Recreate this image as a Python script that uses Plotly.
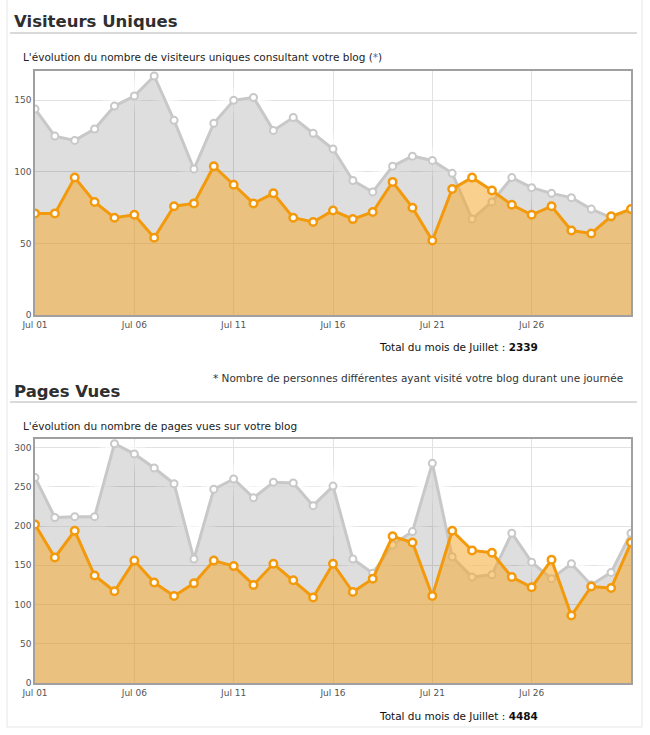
import plotly.graph_objects as go

W, H = 650, 735

# ---------------- data ----------------
days = [f"2010-07-{d:02d}" for d in range(1, 32)]
x_tick_days = ["2010-07-01", "2010-07-06", "2010-07-11", "2010-07-16", "2010-07-21", "2010-07-26"]

visiteurs_juillet = [71, 71, 96, 79, 68, 70, 54, 76, 78, 104, 91, 78, 85, 68, 65,
                     73, 67, 72, 93, 75, 52, 88, 96, 87, 77, 70, 76, 59, 57, 69, 74]
visiteurs_juin = [144, 125, 122, 130, 146, 153, 167, 136, 102, 134, 150, 152, 129, 138, 127,
                  116, 94, 86, 104, 111, 108, 99, 67, 79, 96, 89, 85, 82, 74, 68, 74]

pages_juillet = [202, 160, 194, 137, 117, 156, 128, 111, 127, 156, 149, 125, 152, 131, 109,
                 152, 116, 133, 187, 179, 111, 194, 169, 166, 135, 122, 157, 86, 123, 121, 179]
pages_juin = [262, 211, 212, 212, 305, 292, 274, 254, 158, 247, 260, 236, 256, 255, 226,
              251, 158, 140, 176, 193, 280, 161, 135, 138, 191, 154, 133, 152, 125, 141, 191]

total_visiteurs = 2339
total_pages = 4484

y_ticks_1 = [0, 50, 100, 150]
y_ticks_2 = [0, 50, 100, 150, 200, 250, 300]

# ---------------- styling ----------------
FONT = "DejaVu Sans"
ORANGE = "#f39a0c"
ORANGE_FILL = "rgba(244,170,50,0.55)"
GREY = "#c8c8c8"
GREY_FILL = "rgba(0,0,0,0.13)"
GRID = "#e2e2e2"


def px(x):
    return x / W


def py(y):
    return 1 - y / H


fig = go.Figure()


def add_pair(prev, cur, xa, ya):
    # soft white halo around the previous-month line (hides grid near the curve)
    for w, op in [(26, 0.35), (16, 0.5), (8, 0.6)]:
        fig.add_trace(go.Scatter(
            x=days, y=prev, xaxis=xa, yaxis=ya, mode="lines",
            line=dict(color="white", width=w), opacity=op,
            showlegend=False, hoverinfo="skip"))
    fig.add_trace(go.Scatter(
        x=days, y=prev, xaxis=xa, yaxis=ya, mode="lines+markers",
        fill="tozeroy", fillcolor=GREY_FILL,
        line=dict(color=GREY, width=3),
        marker=dict(size=7, color="white", line=dict(color=GREY, width=2)),
        showlegend=False, hoverinfo="skip"))
    fig.add_trace(go.Scatter(
        x=days, y=cur, xaxis=xa, yaxis=ya, mode="lines+markers",
        fill="tozeroy", fillcolor=ORANGE_FILL,
        line=dict(color=ORANGE, width=3),
        marker=dict(size=7.5, color="white", line=dict(color=ORANGE, width=2.5)),
        showlegend=False, hoverinfo="skip"))


add_pair(visiteurs_juin, visiteurs_juillet, "x", "y")
add_pair(pages_juin, pages_juillet, "x2", "y2")

xaxis_common = dict(
    type="date", range=[days[0], days[-1]],
    tickmode="array", tickvals=x_tick_days, tickformat="%b %d",
    showgrid=True, gridcolor=GRID, gridwidth=1,
    showline=True, linecolor="#a0a0a0", linewidth=1.5, mirror=True,
    ticks="", zeroline=False, automargin=False,
    tickfont=dict(family=FONT, size=9, color="#545454"), fixedrange=True,
)
yaxis_common = dict(
    showgrid=True, gridcolor=GRID, gridwidth=1,
    showline=True, linecolor="#a0a0a0", linewidth=1.5, mirror=True,
    ticks="", zeroline=False, automargin=False,
    tickfont=dict(family=FONT, size=9, color="#545454"), fixedrange=True,
)

fig.update_layout(
    width=W, height=H, autosize=False,
    margin=dict(l=0, r=0, t=0, b=0, pad=0),
    paper_bgcolor="white", plot_bgcolor="white",
    font=dict(family=FONT, color="#222"),
    xaxis=dict(domain=[px(35), px(631)], anchor="y", **xaxis_common),
    yaxis=dict(domain=[py(315), py(71)], anchor="x", range=[0, 170.5],
               tickvals=y_ticks_1, **yaxis_common),
    xaxis2=dict(domain=[px(35), px(631)], anchor="y2", **xaxis_common),
    yaxis2=dict(domain=[py(683), py(439)], anchor="x2", range=[0, 311],
                tickvals=y_ticks_2, **yaxis_common),
)

# ---------------- decorations ----------------
shapes = [
    dict(type="rect", xref="paper", yref="paper", x0=px(7), x1=px(642), y0=py(727), y1=py(-4),
         line=dict(color="#e6e6e6", width=1), fillcolor="rgba(0,0,0,0)", layer="below"),
    dict(type="line", xref="paper", yref="paper", x0=px(10), x1=px(637), y0=py(33), y1=py(33),
         line=dict(color="#b4b4b4", width=1)),
    dict(type="line", xref="paper", yref="paper", x0=px(10), x1=px(637), y0=py(402), y1=py(402),
         line=dict(color="#b4b4b4", width=1)),
]
fig.update_layout(shapes=shapes)


def text(x, y, s, size, anchor="left", color="#222"):
    fig.add_annotation(x=px(x), y=py(y), xref="paper", yref="paper", text=s,
                       showarrow=False, xanchor=anchor, yanchor="middle",
                       font=dict(family=FONT, size=size, color=color))


text(12, 22, "<b>Visiteurs Uniques</b>", 16.5, color="#2f2f2f")
text(21, 57, "L'évolution du nombre de visiteurs uniques consultant votre blog "
             "(<span style='color:#3b6fc4'>*</span>)", 10.5)
text(458, 347, f"Total du mois de Juillet : <b>{total_visiteurs}</b>", 10.5, anchor="center", color="#111")
text(625, 378, "* Nombre de personnes différentes ayant visité votre blog durant une journée",
     10.5, anchor="right", color="#333")
text(12, 391, "<b>Pages Vues</b>", 16.5, color="#2f2f2f")
text(21, 426, "L'évolution du nombre de pages vues sur votre blog", 10.5)
text(458, 716, f"Total du mois de Juillet : <b>{total_pages}</b>", 10.5, anchor="center", color="#111")

fig.write_html(
    "out.html",
    post_script="document.body.style.margin='0';document.body.style.overflow='hidden';",
)
